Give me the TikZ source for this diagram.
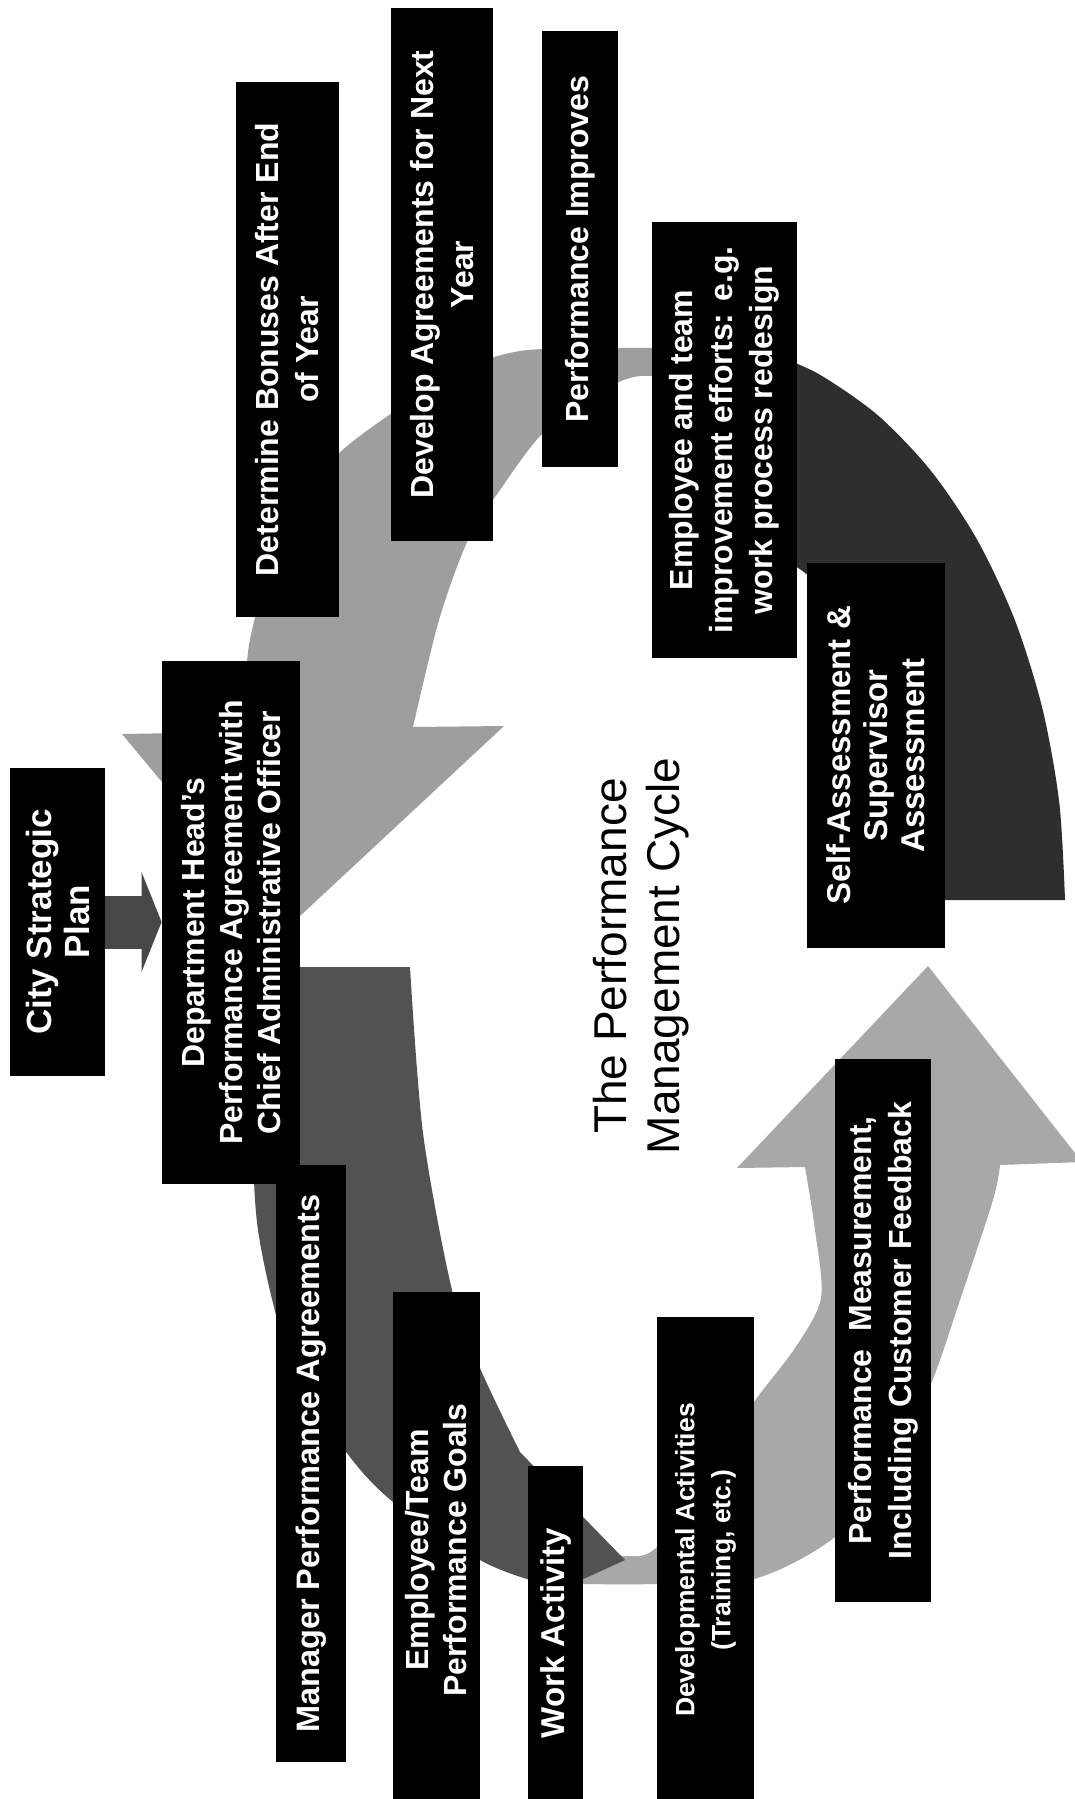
\documentclass[tikz,border=0pt]{standalone}
\usepackage{fontspec}
\setmainfont{Liberation Sans}
\usetikzlibrary{arrows.meta}
\definecolor{lightA}{gray}{0.62}
\definecolor{lightC}{gray}{0.66}
\definecolor{darkB}{gray}{0.32}
\definecolor{darkD}{gray}{0.18}
\definecolor{connC}{gray}{0.28}
\begin{document}
\begin{tikzpicture}[x=0.5pt,y=-0.5pt,
  box/.style={fill=black,text=white,align=center,rotate=90,inner sep=0pt},
  lbl/.style 2 args={font=\bfseries\fontsize{#1}{#2}\selectfont},
  conn/.style={draw=connC,line width=26.5pt,-{Triangle[length=10pt,width=49.5pt]}}]
\useasboundingbox (0,0) rectangle (1075,1799);
\fill[white] (0,0) rectangle (1075,1799);

% ---- cycle arrows ----
% light arrow (top right -> head near department box)
\fill[lightA] plot[smooth,tension=0.5] coordinates {(700,348) (600,348) (520,351) (460,370) (392,413) (337,455) (298,505) (268,575) (249,645) (242,732)}
  -- (122,734) -- (285,930) -- (504,726)
  -- plot[smooth,tension=0.5] coordinates {(413,727) (439,620) (468,540) (500,490) (543,433) (600,392) (640,376) (700,382)}
  -- cycle;
% light arrow (bottom -> head up at right)
\fill[lightC] plot[smooth,tension=0.5] coordinates {(575,1545) (625,1556) (657,1547) (705,1477) (754,1402) (795,1348) (821,1298) (815,1230) (805,1167)}
  -- (737,1168) -- (928,966) -- (1082,1162) -- (1000,1165)
  -- plot[smooth,tension=0.5] coordinates {(1000,1165) (993,1200) (960,1300) (931,1384) (890,1470) (835,1537) (754,1579) (657,1584) (575,1584)}
  -- cycle;
% darkest arrow (right side)
\fill[darkD] (935,900) -- plot[smooth,tension=0.5] coordinates {(1065,900) (1059.3,802.8) (1042.4,708.5) (1014.8,620) (977.3,540) (931.1,471) (877.5,415) (818.3,373.8) (770,353)}
  -- (770,300) -- (665,455) -- (770,610)
  -- plot[smooth,tension=0.5] coordinates {(770,552) (812.5,579.6) (877.7,662.2) (920.2,773.5) (935,900)} -- cycle;
% dark arrow (left side)
\fill[darkB] (250,967) -- plot[smooth,tension=0.5] coordinates {(410,967) (423,1133) (452,1290) (480,1368) (520,1452)}
  -- (625,1560) -- (555,1592)
  -- plot[smooth,tension=0.5] coordinates {(527,1579) (480,1560) (393,1502) (344,1449) (290,1360) (258,1230) (252,1100) (250,967)} -- cycle;

% ---- boxes ----
\node[box,minimum width=267.5pt,minimum height=51.5pt,lbl={16}{20}] (det) at (287.5,349.5) {Determine Bonuses After End\\of Year};
\node[box,minimum width=266.5pt,minimum height=51pt,lbl={16}{20}] (dev) at (442,274.5) {Develop Agreements for Next\\Year};
\node[box,minimum width=218pt,minimum height=38pt,lbl={16}{20}] (pimp) at (580,249) {Performance Improves};
\node[box,minimum width=218pt,minimum height=72.5pt,lbl={16}{20}] (emp) at (724.5,440) {Employee and team\\improvement efforts: e.g.\\work process redesign};
\node[box,minimum width=192.5pt,minimum height=69pt,lbl={16.5}{18.5}] (self) at (876,755.5) {Self-Assessment \&\\Supervisor\\Assessment};
\node[box,minimum width=154pt,minimum height=47.5pt,lbl={17.5}{19}] (city) at (57.5,922) {City Strategic\\Plan};
\node[box,minimum width=261.5pt,minimum height=69pt,lbl={16}{19}] (dept) at (231,922.5) {Department Head’s\\Performance Agreement with\\Chief Administrative Officer};
\node[box,minimum width=298.5pt,minimum height=35pt,lbl={16.25}{19}] (mgr) at (311,1463.5) {Manager Performance Agreements};
\node[box,minimum width=258pt,minimum height=43.5pt,lbl={16}{19}] (goals) at (436.5,1550) {Employee/Team\\Performance Goals};
\node[box,minimum width=167pt,minimum height=27.5pt,lbl={16.5}{19}] (work) at (555.5,1633) {Work Activity};
\node[box,minimum width=243pt,minimum height=48.5pt,lbl={13.25}{18}] (devact) at (705.5,1560) {Developmental Activities\\(Training, etc.)};
\node[box,minimum width=271.5pt,minimum height=48pt,lbl={16}{20}] (pmeas) at (883,1330.5) {Performance\ \ Measurement,\\Including Customer Feedback};

% ---- connector ----
\draw[conn] (city.south) -- (city.south -| dept.north);

% ---- title ----
\node[rotate=90,align=center,font=\fontsize{23}{26.5}\selectfont] (title) at (641,956) {The Performance\\Management Cycle};
\end{tikzpicture}
\end{document}
